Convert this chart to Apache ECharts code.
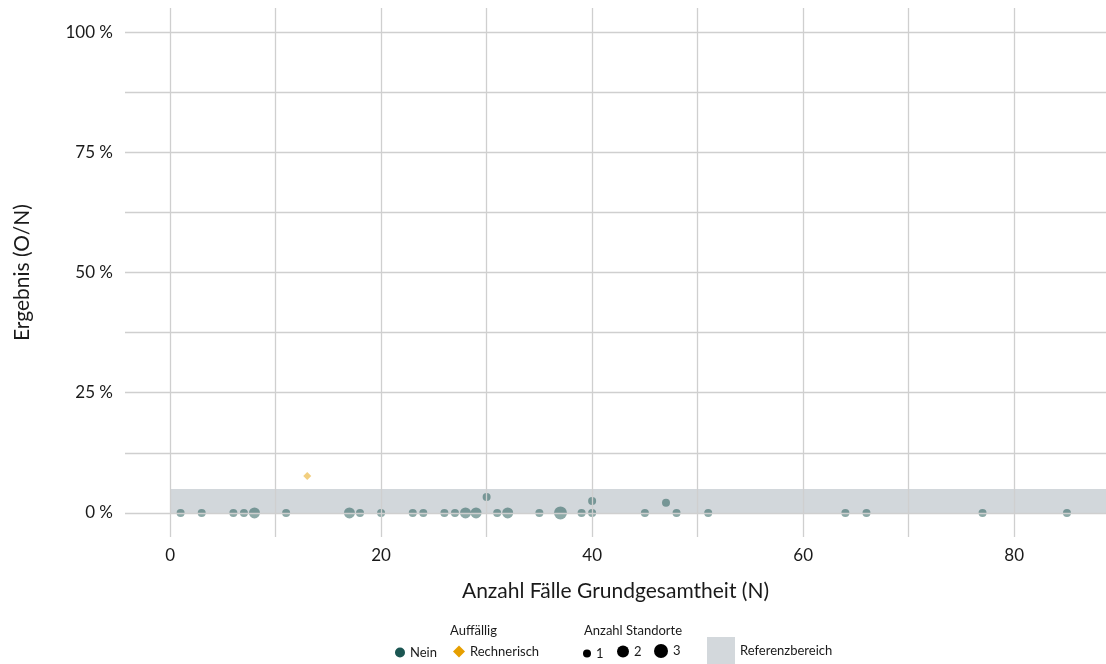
<!DOCTYPE html>
<html>
<head>
<meta charset="utf-8">
<script src="https://cdn.jsdelivr.net/npm/echarts@6/dist/echarts.min.js"></script>
<style>
  html, body { margin: 0; padding: 0; background: #fff; }
  #chart { width: 1106px; height: 664px; }
</style>
</head>
<body>
<div id="chart"></div>
<script>
// Auffällig: Nein
var neinN = [1, 3, 6, 7, 8, 11, 17, 18, 20, 23, 24, 26, 27, 28, 29, 30, 31, 32, 35, 37, 39, 40, 40, 45, 47, 48, 51, 64, 66, 77, 85]
var neinRate = [0, 0, 0, 0, 0, 0, 0, 0, 0, 0, 0, 0, 0, 0, 0, 3.33, 0, 0, 0, 0, 0, 0, 2.5, 0, 2.13, 0, 0, 0, 0, 0, 0]
var neinSites = [1, 1, 1, 1, 2, 1, 2, 1, 1, 1, 1, 1, 1, 2, 2, 1, 1, 2, 1, 3, 1, 1, 1, 1, 1, 1, 1, 1, 1, 1, 1]
// Auffällig: Rechnerisch
var rechN = [13]
var rechRate = [7.69]
var rechSites = [1]
// Referenzbereich (%)
var refLow = 0
var refHigh = 5
// axes
var xTicks = [0, 20, 40, 60, 80]
var xGrid = [0, 10, 20, 30, 40, 50, 60, 70, 80]
var yTicks = [0, 25, 50, 75, 100]
var yGrid = [0, 12.5, 25, 37.5, 50, 62.5, 75, 87.5, 100]
var siteLevels = [1, 2, 3]

var FONT = 'Lato'
var TEAL = '#1b5652'
var ORANGE = '#e69f00'
var BAND = '#d3d8dc'
var dotSize = function (s) { return [8, 11, 13][s - 1] }

function pts(xs, ys, ss) {
  return xs.map(function (x, i) { return [x, ys[i], ss[i]] })
}

var chart = echarts.init(document.getElementById('chart'))

var legendText = { fontFamily: FONT, fontSize: 13, color: '#1a1a1a' }
function legendItem(name, icon, w, h, left, top) {
  return {
    data: [{ name: name, icon: icon, itemStyle: { opacity: 1 } }],
    left: left,
    top: top,
    itemWidth: w,
    itemHeight: h,
    itemGap: 0,
    padding: 0,
    textStyle: legendText,
    selectedMode: false
  }
}

chart.setOption({
  animation: false,
  grid: { left: 125, right: 0, top: 8, bottom: 127 },
  xAxis: {
    type: 'value',
    min: -4.27,
    max: 88.7,
    axisLine: { show: false },
    axisTick: { show: false },
    splitLine: { show: false },
    axisLabel: {
      customValues: xTicks,
      fontFamily: FONT, fontSize: 17, color: '#1a1a1a', margin: 10
    },
    name: 'Anzahl Fälle Grundgesamtheit (N)',
    nameLocation: 'middle',
    nameGap: 44,
    nameTextStyle: { fontFamily: FONT, fontSize: 21, color: '#1a1a1a' }
  },
  yAxis: {
    type: 'value',
    min: -5,
    max: 105,
    axisLine: { show: false },
    axisTick: { show: false },
    splitLine: { show: false },
    axisLabel: {
      customValues: yTicks,
      formatter: function (v) { return v + ' %' },
      fontFamily: FONT, fontSize: 17, color: '#1a1a1a', margin: 12
    },
    name: 'Ergebnis (O/N)',
    nameLocation: 'middle',
    nameGap: 92,
    nameTextStyle: { fontFamily: FONT, fontSize: 21, color: '#1a1a1a' }
  },
  legend: [
    legendItem('Nein', 'circle', 10, 10, 395, 646),
    legendItem('Rechnerisch', 'diamond', 12, 12, 453, 645),
    legendItem('1', 'circle', 8, 8, 583, 647),
    legendItem('2', 'circle', 12, 12, 617, 645),
    legendItem('3', 'circle', 14, 14, 654, 644),
    legendItem('Referenzbereich', 'rect', 28, 27, 707, 637)
  ],
  graphic: [
    { type: 'text', left: 450, top: 624, style: { text: 'Auffällig', font: '13px ' + FONT, fill: '#1a1a1a' } },
    { type: 'text', left: 584, top: 624, style: { text: 'Anzahl Standorte', font: '13px ' + FONT, fill: '#1a1a1a' } }
  ],
  series: [
    {
      name: 'gridlines',
      type: 'line',
      data: [],
      silent: true,
      z: 1,
      markLine: {
        silent: true,
        symbol: 'none',
        label: { show: false },
        lineStyle: { color: '#cfcfcf', width: 1.3, type: 'solid' },
        data: xGrid.map(function (v) { return { xAxis: v } })
          .concat(yGrid.map(function (v) { return { yAxis: v } }))
      }
    },
    {
      name: 'Referenzbereich',
      type: 'line',
      data: [],
      z: 2,
      itemStyle: { color: BAND },
      markArea: {
        silent: true,
        itemStyle: { color: 'rgba(165,176,184,0.5)' },
        data: [[{ xAxis: 0, yAxis: refLow }, { xAxis: 88.7, yAxis: refHigh }]]
      }
    },
    {
      name: 'Nein',
      type: 'scatter',
      z: 3,
      data: pts(neinN, neinRate, neinSites),
      symbol: 'circle',
      symbolSize: function (d) { return dotSize(d[2]) },
      itemStyle: { color: TEAL, opacity: 0.5 }
    },
    {
      name: 'Rechnerisch',
      type: 'scatter',
      z: 3,
      data: pts(rechN, rechRate, rechSites),
      symbol: 'diamond',
      symbolSize: function (d) { return dotSize(d[2]) },
      itemStyle: { color: ORANGE, opacity: 0.5 }
    }
  ].concat(siteLevels.map(function (s) {
    return { name: String(s), type: 'scatter', data: [], itemStyle: { color: '#000' } }
  }))
})
</script>
</body>
</html>
